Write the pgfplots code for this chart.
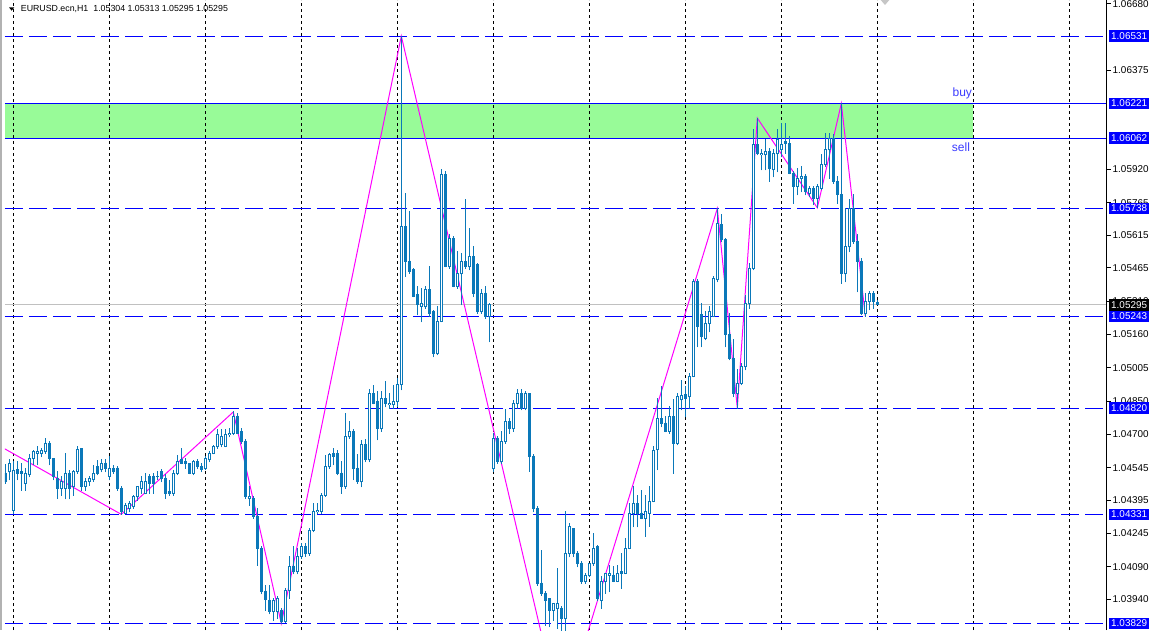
\documentclass[border=0pt]{standalone}
\usepackage{pgfplots}
\pgfplotsset{compat=1.18}
\usepackage{pgfplotstable}
\usepackage{fontspec}
\setmainfont{Liberation Sans}
\definecolor{cnd}{RGB}{10,120,185}
\definecolor{lvl}{RGB}{0,0,255}
\definecolor{zz}{RGB}{255,0,255}
\definecolor{pgreen}{RGB}{152,251,152}
\definecolor{objtxt}{RGB}{60,60,255}
\definecolor{curln}{RGB}{192,192,192}

\pgfplotstableread{
x o h l c
0 1.04521 1.04558 1.04475 1.04480
1 1.04526 1.04581 1.04489 1.04567
2 1.04351 1.04572 1.04337 1.04535
3 1.04535 1.04572 1.04489 1.04521
4 1.04526 1.04567 1.04443 1.04517
5 1.04475 1.04544 1.04443 1.04521
6 1.04512 1.04604 1.04503 1.04590
7 1.04590 1.04627 1.04558 1.04618
8 1.04613 1.04641 1.04558 1.04622
9 1.04613 1.04636 1.04595 1.04627
10 1.04618 1.04678 1.04613 1.04659
11 1.04659 1.04664 1.04558 1.04586
12 1.04586 1.04590 1.04489 1.04503
13 1.04498 1.04526 1.04406 1.04452
14 1.04452 1.04503 1.04420 1.04480
15 1.04452 1.04609 1.04402 1.04521
16 1.04521 1.04535 1.04402 1.04452
17 1.04461 1.04535 1.04420 1.04526
18 1.04526 1.04641 1.04521 1.04627
19 1.04632 1.04636 1.04443 1.04461
20 1.04461 1.04498 1.04443 1.04484
21 1.04480 1.04503 1.04466 1.04494
22 1.04489 1.04558 1.04484 1.04521
23 1.04549 1.04581 1.04512 1.04517
24 1.04535 1.04581 1.04526 1.04567
25 1.04567 1.04581 1.04526 1.04544
26 1.04507 1.04595 1.04489 1.04540
27 1.04540 1.04558 1.04521 1.04530
28 1.04544 1.04553 1.04443 1.04452
29 1.04452 1.04457 1.04331 1.04342
30 1.04337 1.04383 1.04335 1.04374
31 1.04360 1.04388 1.04342 1.04379
32 1.04365 1.04420 1.04360 1.04411
33 1.04411 1.04461 1.04397 1.04457
34 1.04452 1.04503 1.04429 1.04480
35 1.04429 1.04521 1.04425 1.04480
36 1.04503 1.04512 1.04429 1.04475
37 1.04507 1.04521 1.04429 1.04471
38 1.04503 1.04526 1.04489 1.04507
39 1.04526 1.04535 1.04480 1.04494
40 1.04498 1.04512 1.04406 1.04429
41 1.04434 1.04489 1.04420 1.04425
42 1.04429 1.04535 1.04420 1.04521
43 1.04521 1.04604 1.04512 1.04576
44 1.04581 1.04636 1.04563 1.04567
45 1.04572 1.04590 1.04544 1.04563
46 1.04563 1.04567 1.04517 1.04521
47 1.04521 1.04581 1.04512 1.04572
48 1.04572 1.04581 1.04544 1.04549
49 1.04553 1.04567 1.04526 1.04535
50 1.04540 1.04595 1.04535 1.04590
51 1.04581 1.04618 1.04572 1.04613
52 1.04613 1.04650 1.04609 1.04641
53 1.04641 1.04719 1.04636 1.04696
54 1.04650 1.04719 1.04641 1.04687
55 1.04645 1.04719 1.04641 1.04696
56 1.04696 1.04728 1.04687 1.04705
57 1.04705 1.04802 1.04696 1.04783
58 1.04783 1.04793 1.04701 1.04705
59 1.04710 1.04724 1.04659 1.04664
60 1.04668 1.04673 1.04406 1.04411
61 1.04402 1.04457 1.04374 1.04411
62 1.04402 1.04411 1.04314 1.04319
63 1.04323 1.04360 1.04098 1.04176
64 1.04176 1.04181 1.03965 1.03974
65 1.03978 1.04006 1.03891 1.03937
66 1.03937 1.04006 1.03873 1.03882
67 1.03882 1.03946 1.03845 1.03937
68 1.03882 1.03951 1.03854 1.03946
69 1.03891 1.03900 1.03829 1.03840
70 1.03840 1.03992 1.03835 1.03983
71 1.03983 1.04135 1.03946 1.04093
72 1.04093 1.04181 1.04057 1.04066
73 1.04066 1.04176 1.04057 1.04135
74 1.04139 1.04199 1.04130 1.04185
75 1.04185 1.04199 1.04139 1.04149
76 1.04153 1.04264 1.04144 1.04259
77 1.04259 1.04383 1.04250 1.04346
78 1.04342 1.04379 1.04337 1.04351
79 1.04346 1.04429 1.04337 1.04420
80 1.04420 1.04604 1.04415 1.04553
81 1.04549 1.04609 1.04544 1.04604
82 1.04609 1.04632 1.04558 1.04599
83 1.04609 1.04627 1.04512 1.04521
84 1.04521 1.04572 1.04429 1.04457
85 1.04457 1.04797 1.04452 1.04687
86 1.04687 1.04756 1.04682 1.04710
87 1.04710 1.04719 1.04489 1.04544
88 1.04544 1.04604 1.04475 1.04480
89 1.04480 1.04673 1.04457 1.04650
90 1.04650 1.04673 1.04572 1.04581
91 1.04581 1.04903 1.04572 1.04889
92 1.04885 1.04926 1.04839 1.04843
93 1.04852 1.04894 1.04673 1.04724
94 1.04724 1.04894 1.04714 1.04862
95 1.04862 1.04940 1.04825 1.04839
96 1.04834 1.04889 1.04820 1.04843
97 1.04834 1.04926 1.04816 1.04848
98 1.04848 1.04958 1.04825 1.04926
99 1.04926 1.06531 1.04903 1.05653
100 1.05653 1.05809 1.05427 1.05492
101 1.05496 1.05722 1.05441 1.05450
102 1.05455 1.05464 1.05331 1.05335
103 1.05340 1.05377 1.05248 1.05294
104 1.05289 1.05372 1.05216 1.05299
105 1.05285 1.05377 1.05280 1.05363
106 1.05363 1.05469 1.05243 1.05257
107 1.05266 1.05271 1.05055 1.05073
108 1.05069 1.05285 1.05064 1.05220
109 1.05220 1.05915 1.05216 1.05892
110 1.05892 1.05906 1.05469 1.05473
111 1.05469 1.05616 1.05464 1.05602
112 1.05598 1.05607 1.05377 1.05381
113 1.05381 1.05538 1.05372 1.05437
114 1.05437 1.05533 1.05294 1.05496
115 1.05492 1.05777 1.05464 1.05469
116 1.05469 1.05648 1.05455 1.05515
117 1.05515 1.05561 1.05331 1.05345
118 1.05478 1.05483 1.05257 1.05262
119 1.05262 1.05363 1.05257 1.05349
120 1.05349 1.05377 1.05234 1.05239
121 1.05239 1.05303 1.05124 1.05294
122 1.04540 1.04705 1.04530 1.04682
123 1.04682 1.04687 1.04567 1.04572
124 1.04572 1.04714 1.04567 1.04664
125 1.04664 1.04811 1.04659 1.04756
126 1.04756 1.04774 1.04705 1.04724
127 1.04724 1.04857 1.04714 1.04843
128 1.04843 1.04903 1.04820 1.04885
129 1.04885 1.04903 1.04811 1.04820
130 1.04820 1.04894 1.04811 1.04885
131 1.04885 1.04889 1.04530 1.04599
132 1.04599 1.04604 1.04342 1.04356
133 1.04356 1.04365 1.04006 1.04015
134 1.04015 1.04167 1.03960 1.03969
135 1.03965 1.03974 1.03822 1.03937
136 1.03942 1.03946 1.03813 1.03891
137 1.03891 1.03923 1.03845 1.03919
138 1.03896 1.04084 1.03808 1.03919
139 1.03900 1.03905 1.03390 1.03850
140 1.03850 1.04342 1.03707 1.04149
141 1.04149 1.04291 1.04135 1.04273
142 1.04264 1.04268 1.04135 1.04153
143 1.04153 1.04158 1.04089 1.04107
144 1.04107 1.04112 1.04015 1.04020
145 1.04020 1.04061 1.04015 1.04052
146 1.04052 1.04107 1.04043 1.04103
147 1.04103 1.04241 1.04098 1.04176
148 1.04181 1.04190 1.03937 1.03946
149 1.03937 1.04043 1.03900 1.04020
150 1.04020 1.04061 1.03969 1.04057
151 1.04052 1.04098 1.03974 1.04057
152 1.04052 1.04089 1.04020 1.04024
153 1.04024 1.04098 1.04020 1.04061
154 1.04061 1.04153 1.03992 1.04066
155 1.04061 1.04218 1.04057 1.04176
156 1.04176 1.04379 1.04172 1.04337
157 1.04337 1.04457 1.04273 1.04379
158 1.04379 1.04420 1.04273 1.04337
159 1.04337 1.04443 1.04310 1.04314
160 1.04314 1.04420 1.04231 1.04342
161 1.04337 1.04457 1.04277 1.04392
162 1.04392 1.04641 1.04388 1.04627
163 1.04627 1.04866 1.04535 1.04770
164 1.04770 1.04917 1.04733 1.04751
165 1.04751 1.04779 1.04710 1.04714
166 1.04714 1.04825 1.04705 1.04779
167 1.04779 1.04857 1.04521 1.04659
168 1.04659 1.04889 1.04650 1.04871
169 1.04857 1.04949 1.04811 1.04880
170 1.04880 1.04917 1.04779 1.04866
171 1.04871 1.04981 1.04816 1.04967
172 1.04967 1.05409 1.04963 1.05404
173 1.05404 1.05409 1.05101 1.05193
174 1.05248 1.05299 1.05101 1.05147
175 1.05142 1.05262 1.05133 1.05207
176 1.05207 1.05289 1.05170 1.05266
177 1.05243 1.05427 1.05239 1.05414
178 1.05409 1.05738 1.05400 1.05667
179 1.05662 1.05708 1.05584 1.05593
180 1.05593 1.05602 1.05101 1.05156
181 1.05156 1.05257 1.05041 1.05046
182 1.05046 1.05133 1.04871 1.04889
183 1.04889 1.04995 1.04820 1.04935
184 1.04935 1.05027 1.04926 1.05009
185 1.05009 1.05340 1.04995 1.05303
186 1.05303 1.05487 1.05280 1.05464
187 1.05464 1.06099 1.05455 1.06030
188 1.06030 1.06154 1.05984 1.05989
189 1.05984 1.06007 1.05915 1.05993
190 1.05984 1.06053 1.05915 1.05998
191 1.06002 1.06012 1.05864 1.05920
192 1.05915 1.06007 1.05883 1.05989
193 1.05989 1.06099 1.05906 1.06053
194 1.06007 1.06131 1.05975 1.06030
195 1.06044 1.06131 1.05993 1.06035
196 1.06035 1.06067 1.05897 1.05901
197 1.05901 1.05906 1.05763 1.05837
198 1.05841 1.05924 1.05800 1.05874
199 1.05874 1.05929 1.05814 1.05887
200 1.05887 1.05892 1.05800 1.05814
201 1.05805 1.05837 1.05795 1.05828
202 1.05828 1.05837 1.05754 1.05786
203 1.05786 1.05846 1.05741 1.05837
204 1.05832 1.05984 1.05823 1.05938
205 1.05938 1.06085 1.05929 1.06007
206 1.06007 1.06081 1.05878 1.06062
207 1.06062 1.06076 1.05855 1.05860
208 1.05860 1.05883 1.05760 1.05800
209 1.05800 1.06221 1.05395 1.05437
210 1.05437 1.05740 1.05400 1.05561
211 1.05561 1.05777 1.05538 1.05740
212 1.05740 1.05800 1.05579 1.05584
213 1.05584 1.05616 1.05354 1.05492
214 1.05496 1.05510 1.05248 1.05253
215 1.05253 1.05349 1.05243 1.05308
216 1.05308 1.05354 1.05271 1.05345
217 1.05345 1.05354 1.05280 1.05312
218 1.05304 1.05313 1.05295 1.05295
}\candles

\pgfplotstableread{
x p
-3 1.04662
29 1.04331
57 1.04802
69 1.03829
99 1.06531
139 1.03390
178 1.05738
183 1.04820
188 1.06154
203 1.05741
209 1.06221
215 1.05243
}\zigzag

\begin{document}
\begin{tikzpicture}
\path[use as bounding box, fill=white] (0pt,0pt) rectangle (1151pt,630pt);
\fill[gray!60] (0pt,0pt) rectangle (2pt,630pt);
\begin{axis}[
  at={(5pt,0pt)}, anchor=south west,
  width=1101.5pt, height=630pt, scale only axis,
  xmin=-0.075, xmax=275.3, ymin=1.03799, ymax=1.06697,
  clip mode=individual,
  axis line style={draw=none},
  xtick=\empty,
  ytick={1.06680,1.06375,1.05920,1.05765,1.05615,1.05465,1.05310,1.05160,1.05005,1.04850,1.04700,1.04545,1.04395,1.04245,1.04090,1.03940},
  yticklabels={1.06680,1.06375,1.05920,1.05765,1.05615,1.05465,1.05310,1.05160,1.05005,1.04850,1.04700,1.04545,1.04395,1.04245,1.04090,1.03940},
  ytick pos=right, yticklabel pos=right,
  tick align=outside, major tick length=4pt,
  tick style={black, line width=0.8pt},
  yticklabel style={font=\fontsize{9.9}{11}\selectfont, anchor=west, inner sep=0pt, xshift=2pt},
]
% rectangle zone
\fill[pgreen] (axis cs:-0.075,1.06062) rectangle (axis cs:242,1.06221);
% grid
\pgfplotsinvokeforeach{2,26,50,74,98,122,146,170,194,218,242,266}{
  \draw[black, line width=1pt, dash pattern=on 3pt off 3pt] (axis cs:#1,1.03799) -- (axis cs:#1,1.06697);
}
% level lines
\addplot[lvl, line width=1pt, dash pattern=on 18pt off 6pt] coordinates {(-0.075,1.06531) (275.3,1.06531)};
\addplot[lvl, line width=1pt, dash pattern=on 18pt off 6pt] coordinates {(-0.075,1.05738) (275.3,1.05738)};
\addplot[lvl, line width=1pt, dash pattern=on 18pt off 6pt] coordinates {(-0.075,1.05243) (275.3,1.05243)};
\addplot[lvl, line width=1pt, dash pattern=on 18pt off 6pt] coordinates {(-0.075,1.04820) (275.3,1.04820)};
\addplot[lvl, line width=1pt, dash pattern=on 18pt off 6pt] coordinates {(-0.075,1.04331) (275.3,1.04331)};
\addplot[lvl, line width=1pt, dash pattern=on 18pt off 6pt] coordinates {(-0.075,1.03829) (275.3,1.03829)};
\addplot[lvl, line width=1pt] coordinates {(-0.075,1.06221) (275.3,1.06221)};
\addplot[lvl, line width=1pt] coordinates {(-0.075,1.06062) (275.3,1.06062)};
\addplot[curln, line width=1pt] coordinates {(-0.075,1.05295) (275.3,1.05295)};
% zigzag
\addplot[zz, line width=1pt] table[x=x, y=p] {\zigzag};
% wicks
\addplot[cnd, line width=1pt, shorten <=-0.5pt, shorten >=-0.5pt,
  quiver={u=0, v=\thisrow{h}-\thisrow{l}}] table[x=x, y=l] {\candles};
% bear bodies
\addplot[cnd, line width=3pt, shorten <=-0.5pt, shorten >=-0.5pt,
  quiver={u=0, v=\thisrow{c}-\thisrow{o}},
  restrict expr to domain={\thisrow{o}-\thisrow{c}}{0:1}] table[x=x, y=o] {\candles};
% bull bodies
\addplot[cnd, line width=3pt, shorten <=-0.5pt, shorten >=-0.5pt,
  quiver={u=0, v=\thisrow{c}-\thisrow{o}},
  restrict expr to domain={\thisrow{c}-\thisrow{o}}{0.000001:1}] table[x=x, y=o] {\candles};
\addplot[white, line width=1pt, shorten <=0.5pt, shorten >=0.5pt,
  quiver={u=0, v=\thisrow{c}-\thisrow{o}},
  restrict expr to domain={\thisrow{c}-\thisrow{o}}{0.00005:1}] table[x=x, y=o] {\candles};
% right axis line
\draw[black, line width=1pt] (rel axis cs:1,0) -- (rel axis cs:1,1);
% object labels
\node[anchor=base east, text=objtxt, font=\fontsize{12}{14}\selectfont, inner sep=0pt] at (axis cs:241.7,1.06255) {buy};
\node[anchor=base east, text=objtxt, font=\fontsize{12}{14}\selectfont, inner sep=0pt] at (axis cs:241.2,1.06000) {sell};
% price box anchors
\coordinate (b1) at (axis cs:275.3,1.06531);
\coordinate (b2) at (axis cs:275.3,1.06221);
\coordinate (b3) at (axis cs:275.3,1.06062);
\coordinate (b4) at (axis cs:275.3,1.05738);
\coordinate (b5) at (axis cs:275.3,1.05243);
\coordinate (b6) at (axis cs:275.3,1.04820);
\coordinate (b7) at (axis cs:275.3,1.04331);
\coordinate (b8) at (axis cs:275.3,1.03829);
\coordinate (bc) at (axis cs:275.3,1.05295);
\end{axis}
\tikzset{pbox/.style={anchor=west, text=white, font=\fontsize{9.9}{11}\selectfont, inner xsep=2pt, inner ysep=0pt, minimum height=11.5pt}}
\foreach \n/\t in {b1/1.06531,b2/1.06221,b3/1.06062,b4/1.05738,b5/1.05243,b6/1.04820,b7/1.04331,b8/1.03829}{
  \node[pbox, fill=lvl] at ([xshift=2.5pt]\n) {\t};
}
\node[pbox, fill=black] at ([xshift=2.5pt]bc) {1.05295};
% header
\fill[black] (9pt,622.7pt) -- (14.3pt,622.7pt) -- (11.65pt,619.3pt) -- cycle;
\node[anchor=base west, inner sep=0pt, font=\fontsize{8.8}{10}\selectfont] at (20.7pt,618pt) {EURUSD.ecn,H1\hspace{5pt}1.05304 1.05313 1.05295 1.05295};
% chart shift marker
\fill[gray!45] (880.7pt,630pt) -- (889.3pt,630pt) -- (885pt,625pt) -- cycle;
\end{tikzpicture}
\end{document}
